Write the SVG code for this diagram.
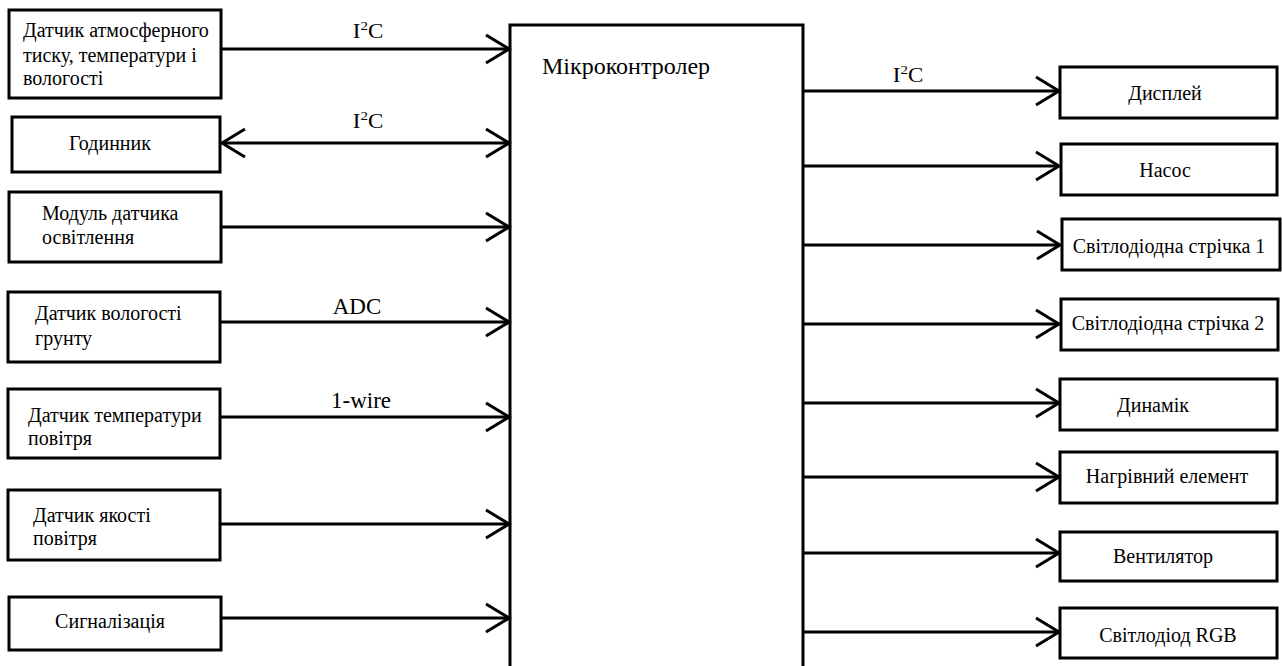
<svg xmlns="http://www.w3.org/2000/svg" width="1282" height="666" viewBox="0 0 1282 666">
<defs>
<marker id="arr" markerUnits="userSpaceOnUse" markerWidth="40" markerHeight="40" viewBox="-30 -20 40 40" refX="0" refY="0" orient="auto-start-reverse">
<path d="M-23,-14 L0,0 L-23,14" fill="none" stroke="#000" stroke-width="3"/>
</marker>
<style>
.box{fill:#fff;stroke:#000;stroke-width:3}
.t{font-family:"Liberation Serif","Times New Roman",serif;font-size:20px;fill:#000}
.c{text-anchor:middle}
.lbl{font-family:"Liberation Serif","Times New Roman",serif;font-size:23px;fill:#000;text-anchor:middle}
.i2c{font-family:"Liberation Serif","Times New Roman",serif;font-size:20px;fill:#000;text-anchor:middle}
.ln{stroke:#000;stroke-width:3;fill:none}
</style>
</defs>
<rect width="1282" height="666" fill="#fff"/>
<g id="mcu">
<rect class="box" x="510" y="25" width="293" height="660"/>
<text class="t" x="542" y="74" style="font-size:24px">Мікроконтролер</text>
</g>
<g id="connectors">
<line class="ln" x1="222" y1="49" x2="509" y2="49" marker-end="url(#arr)"/>
<line class="ln" x1="222" y1="143" x2="509" y2="143" marker-start="url(#arr)" marker-end="url(#arr)"/>
<line class="ln" x1="222" y1="227" x2="509" y2="227" marker-end="url(#arr)"/>
<line class="ln" x1="221" y1="322" x2="509" y2="322" marker-end="url(#arr)"/>
<line class="ln" x1="221" y1="417" x2="509" y2="417" marker-end="url(#arr)"/>
<line class="ln" x1="221" y1="524" x2="509" y2="524" marker-end="url(#arr)"/>
<line class="ln" x1="222" y1="618" x2="509" y2="618" marker-end="url(#arr)"/>
<line class="ln" x1="803" y1="91" x2="1059" y2="91" marker-end="url(#arr)"/>
<line class="ln" x1="803" y1="166" x2="1059" y2="166" marker-end="url(#arr)"/>
<line class="ln" x1="803" y1="245" x2="1060" y2="245" marker-end="url(#arr)"/>
<line class="ln" x1="803" y1="324" x2="1059" y2="324" marker-end="url(#arr)"/>
<line class="ln" x1="803" y1="403" x2="1059" y2="403" marker-end="url(#arr)"/>
<line class="ln" x1="803" y1="477" x2="1059" y2="477" marker-end="url(#arr)"/>
<line class="ln" x1="803" y1="553" x2="1059" y2="553" marker-end="url(#arr)"/>
<line class="ln" x1="803" y1="632" x2="1059" y2="632" marker-end="url(#arr)"/>
<text class="i2c" transform="translate(368,38) scale(1.15,1)">I<tspan dy="-8" font-size="13">2</tspan><tspan dy="8">C</tspan></text>
<text class="i2c" transform="translate(368,128) scale(1.15,1)">I<tspan dy="-8" font-size="13">2</tspan><tspan dy="8">C</tspan></text>
<text class="lbl" x="357" y="314">ADC</text>
<text class="lbl" x="361" y="408">1-wire</text>
<text class="i2c" transform="translate(908,82) scale(1.15,1)">I<tspan dy="-8" font-size="13">2</tspan><tspan dy="8">C</tspan></text>
</g>
<g id="n1"><rect class="box" x="9" y="10" width="212" height="88"/>
<text class="t" x="23" y="37">Датчик атмосферного</text><text class="t" x="23" y="62">тиску, температури і</text><text class="t" x="23" y="85">вологості</text></g>
<g id="n2"><rect class="box" x="12" y="117" width="208" height="55"/>
<text class="t c" x="110" y="150">Годинник</text></g>
<g id="n3"><rect class="box" x="9" y="192" width="212" height="70"/>
<text class="t" x="42" y="220">Модуль датчика</text><text class="t" x="42" y="244">освітлення</text></g>
<g id="n4"><rect class="box" x="8" y="292" width="212" height="70"/>
<text class="t" x="35" y="320">Датчик вологості</text><text class="t" x="35" y="345">грунту</text></g>
<g id="n5"><rect class="box" x="8" y="389" width="212" height="69"/>
<text class="t" x="28" y="422">Датчик температури</text><text class="t" x="28" y="445">повітря</text></g>
<g id="n6"><rect class="box" x="8" y="490" width="212" height="70"/>
<text class="t" x="33" y="522">Датчик якості</text><text class="t" x="33" y="545">повітря</text></g>
<g id="n7"><rect class="box" x="9" y="597" width="212" height="53"/>
<text class="t c" x="110" y="628">Сигналізація</text></g>
<g id="r1"><rect class="box" x="1060" y="67" width="217" height="51"/><text class="t c" x="1165" y="100">Дисплей</text></g>
<g id="r2"><rect class="box" x="1061" y="144" width="216" height="51"/><text class="t c" x="1165" y="177">Насос</text></g>
<g id="r3"><rect class="box" x="1062" y="219" width="218" height="51"/><text class="t c" x="1169" y="253">Світлодіодна стрічка 1</text></g>
<g id="r4"><rect class="box" x="1061" y="299" width="217" height="51"/><text class="t c" x="1168" y="330">Світлодіодна стрічка 2</text></g>
<g id="r5"><rect class="box" x="1060" y="379" width="217" height="51"/><text class="t c" x="1153" y="412">Динамік</text></g>
<g id="r6"><rect class="box" x="1060" y="452" width="217" height="51"/><text class="t c" x="1167" y="483">Нагрівний елемент</text></g>
<g id="r7"><rect class="box" x="1060" y="532" width="217" height="49"/><text class="t c" x="1163" y="563">Вентилятор</text></g>
<g id="r8"><rect class="box" x="1060" y="608" width="217" height="50"/><text class="t c" x="1168" y="642">Світлодіод RGB</text></g>
</svg>
